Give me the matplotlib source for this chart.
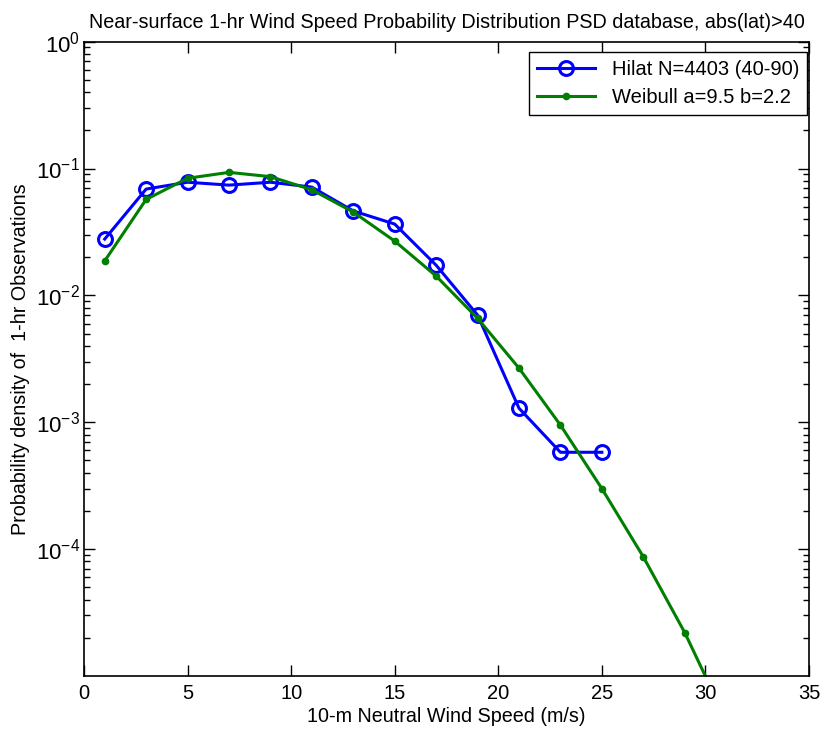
import numpy as np
import matplotlib
matplotlib.use("Agg")
import matplotlib.pyplot as plt
from matplotlib.ticker import LogLocator, NullFormatter

plt.rcParams['font.family'] = ['Liberation Sans', 'DejaVu Sans']
plt.rcParams['mathtext.fontset'] = 'custom'
plt.rcParams['mathtext.rm'] = 'Liberation Sans'
plt.rcParams['mathtext.default'] = 'regular'

# wind speed bin centres (m/s)
speed_obs = [1, 3, 5, 7, 9, 11, 13, 15, 17, 19, 21, 23, 25]
hilat_pdf = [0.0278, 0.0689, 0.078, 0.074, 0.078, 0.0714, 0.0463,
             0.0365, 0.0173, 0.0070, 0.00129, 0.00058, 0.00058]

speed_fit = [1, 3, 5, 7, 9, 11, 13, 15, 17, 19, 21, 23, 25, 27, 29, 31]
weibull_pdf = [0.0187, 0.0571, 0.0838, 0.0933, 0.0863, 0.068, 0.0454,
               0.0268, 0.0142, 0.0066, 0.00267, 0.00095, 0.00030,
               8.7e-5, 2.2e-5, 4.5e-6]

ytick_vals = [1e-4, 1e-3, 1e-2, 1e-1, 1e0]
ytick_labels = ['$10^{-4}$', '$10^{-3}$', '$10^{-2}$', '$10^{-1}$', '$10^{0}$']

fig = plt.figure(figsize=(8.21, 7.30), dpi=100)
ax = fig.add_axes([0.1023, 0.074, 0.8831, 0.8689])

ax.semilogy(speed_obs, hilat_pdf, '-o', color='#0000ff', lw=2.2, ms=10,
            mfc='none', mew=2.2, label='Hilat N=4403 (40-90)')
ax.semilogy(speed_fit, weibull_pdf, '-o', color='#007f00', lw=2.2, ms=4.5,
            label='Weibull a=9.5 b=2.2')

ax.set_xlim(0, 35)
ax.set_ylim(1.0e-5, 1)
ax.set_xticks(np.arange(0, 36, 5))
ax.set_yticks(ytick_vals)
ax.set_yticklabels(ytick_labels)
ax.yaxis.set_minor_locator(LogLocator(base=10, subs=np.arange(2, 10)))
ax.yaxis.set_minor_formatter(NullFormatter())

ax.tick_params(which='both', direction='in', top=True, right=True)
ax.tick_params(axis='x', labelsize=14.5, pad=6)
ax.tick_params(axis='y', labelsize=16, pad=3)
ax.tick_params(which='major', length=8, width=1)
ax.tick_params(which='minor', length=4, width=1)
for s in ax.spines.values():
    s.set_linewidth(1.2)

ax.set_xlabel('10-m Neutral Wind Speed (m/s)', fontsize=14.2, labelpad=3)
ax.set_ylabel('Probability density of  1-hr Observations', fontsize=14.2, labelpad=4)
ax.set_title('Near-surface 1-hr Wind Speed Probability Distribution PSD database, abs(lat)>40',
             fontsize=14.2, pad=10)

leg = ax.legend(loc='upper right', bbox_to_anchor=(807 / 821, 1 - 52 / 730),
                bbox_transform=fig.transFigure, borderaxespad=0,
                fontsize=14.5, fancybox=False, framealpha=1,
                edgecolor='black', handlelength=2.9, labelspacing=0.45)
leg.get_frame().set_linewidth(1.0)

fig.savefig('out.png', dpi=100)
